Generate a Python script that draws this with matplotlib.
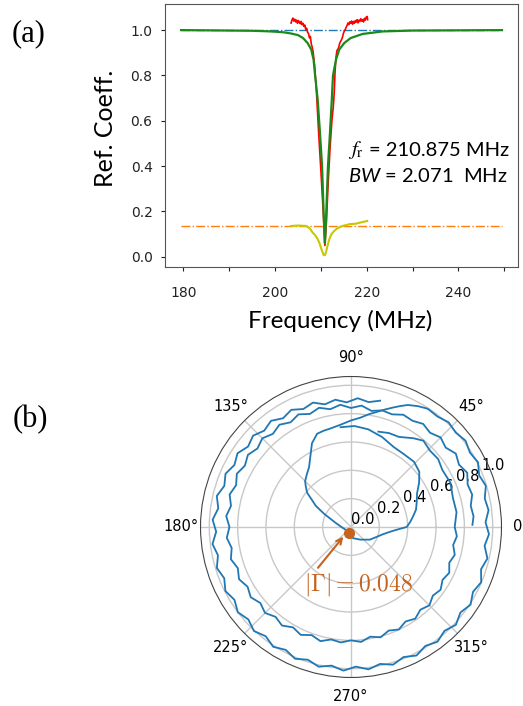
import numpy as np
import matplotlib
matplotlib.use("Agg")
import matplotlib.pyplot as plt

# ---- panel (a): reflection coefficient vs frequency (MHz) ----
fit_freq = [179.5, 185, 190, 195, 198, 200, 202, 203.5, 205, 206.1, 207.1, 207.9, 208.4,
            208.74, 209.3, 209.8, 210.26, 210.5, 210.76, 210.875, 211.0, 211.28, 211.54,
            211.98, 212.38, 212.64, 213.3, 214.0, 215.1, 216.5, 219.1, 223.4, 230, 240, 249.5]
fit_coef = [1.0, 0.999, 0.998, 0.997, 0.995, 0.993, 0.990, 0.985, 0.978, 0.965, 0.943, 0.914,
            0.87, 0.80, 0.694, 0.547, 0.40, 0.254, 0.107, 0.06, 0.107, 0.254, 0.40,
            0.547, 0.694, 0.80, 0.87, 0.914, 0.943, 0.965, 0.983, 0.994, 0.998, 0.999, 1.0]

meas_freq = [203.5, 203.7, 203.9, 204.1, 204.3, 204.5, 204.7, 204.9, 205.1, 205.3, 205.5,
             205.7, 205.9, 206.1, 206.3, 206.5, 206.7, 206.9, 207.1, 207.3, 207.5, 207.7,
             207.9, 208.1, 208.3, 208.6, 209.0, 209.5, 210.0, 210.5, 210.875, 211.2, 211.6,
             212.0, 212.4, 212.7, 212.9, 213.1, 213.3, 213.5, 213.7, 213.9, 214.1, 214.3,
             214.5, 214.7, 214.9, 215.1, 215.3, 215.5, 215.7, 215.9, 216.1, 216.3, 216.5,
             216.7, 216.9, 217.1, 217.3, 217.5, 217.7, 217.9, 218.1, 218.3, 218.5, 218.7,
             218.9, 219.1, 219.3, 219.5, 219.7, 219.9, 220.1, 220.2]
meas_coef = [1.031, 1.045, 1.053, 1.040, 1.048, 1.036, 1.044, 1.030, 1.042, 1.035, 1.028,
             1.038, 1.024, 1.030, 1.016, 1.022, 1.002, 1.008, 0.990, 0.985, 0.966, 0.972,
             0.940, 0.925, 0.905, 0.85, 0.74, 0.55, 0.38, 0.20, 0.05, 0.15, 0.33,
             0.48, 0.60, 0.66, 0.72, 0.82, 0.88, 0.91, 0.915, 0.925, 0.942, 0.950,
             0.958, 0.968, 0.985, 0.995, 1.002, 1.012, 1.020, 1.031, 1.024, 1.036, 1.030,
             1.040, 1.026, 1.038, 1.030, 1.042, 1.035, 1.046, 1.032, 1.044, 1.038, 1.050,
             1.040, 1.046, 1.036, 1.052, 1.044, 1.058, 1.060, 1.046]

mag_freq = [203.5, 205.0, 206.8, 207.6, 208.2, 208.8, 209.3, 209.7, 210.0, 210.3, 210.6,
            210.85, 211.1, 211.4, 211.84, 212.3, 212.9, 213.6, 214.7, 215.5, 216.2, 217.6,
            218.8, 220.1]
mag_coef = [0.136, 0.138, 0.136, 0.125, 0.107, 0.094, 0.078, 0.060, 0.041, 0.024, 0.008,
            0.007, 0.019, 0.045, 0.078, 0.100, 0.114, 0.126, 0.136, 0.140, 0.144, 0.146,
            0.152, 0.158]

ref_freq = [179.5, 249.5]
ref_unity = [1.0, 1.0]
ref_min = [0.136, 0.136]

# ---- panel (b): polar trace, angle (deg) and magnitude ----
# inner spiral (two loose ends)
ring_b_deg = [74, 68, 62, 55, 50, 44, 38, 32, 24, 16, 8, 0,
              -5, -10, -15, -20, -25, -30, -35, -40, -45, -50,
              -55, -60, -65, -70, -75, -80, -85, -90, -95, -100,
              -105, -110, -115, -120, -125, -130, -135, -140, -145, -150,
              -155, -160, -165, -170, -175, -180, -185, -190, -195, -200,
              -205, -210, -215, -220, -225, -230, -235, -240, -245, -250,
              -255, -260, -265, -270, -275, -280, -285, -290, -295, -300,
              -305, -310, -315, -320, -325, -330, -335, -340, -345, -350,
              -355, -359]
ring_b_mag = [0.700, 0.715, 0.720, 0.765, 0.795, 0.775, 0.780, 0.760, 0.768, 0.748, 0.752, 0.732,
              0.750, 0.732, 0.758, 0.738, 0.765, 0.746, 0.772, 0.754, 0.782, 0.762,
              0.790, 0.770, 0.798, 0.778, 0.806, 0.786, 0.814, 0.800, 0.818, 0.806,
              0.834, 0.812, 0.840, 0.818, 0.849, 0.828, 0.858, 0.835, 0.864, 0.843,
              0.872, 0.850, 0.878, 0.855, 0.880, 0.858, 0.884, 0.860, 0.887, 0.863,
              0.889, 0.865, 0.888, 0.862, 0.885, 0.858, 0.881, 0.853, 0.877, 0.849,
              0.871, 0.844, 0.866, 0.840, 0.860, 0.832, 0.852, 0.846, 0.874, 0.866,
              0.888, 0.868, 0.894, 0.872, 0.903, 0.880, 0.905, 0.876, 0.885, 0.858,
              0.868, 0.857]

# outer ring, then turning in to the resonance loop
ring_a_deg = [77, 82, 87, 92, 97, 102, 107, 112, 117, 122,
              127, 132, 137, 142, 147, 152, 157, 162, 167, 172,
              177, 182, 187, 192, 197, 202, 207, 212, 217, 222,
              227, 232, 237, 242, 247, 252, 257, 262, 267, 272,
              277, 282, 287, 292, 297, 302, 307, 312, 317, 322,
              327, 332, 337, 342, 347, 352, 357, 362, 367, 372,
              377, 382, 387, 392, 397, 402, 407, 412, 417,
              421, 425, 428, 431, 434, 437, 441, 445, 450, 456, 462, 466]
ring_a_mag = [0.915, 0.890, 0.910, 0.880, 0.905, 0.885, 0.918, 0.898, 0.928, 0.905,
              0.938, 0.915, 0.945, 0.922, 0.955, 0.932, 0.962, 0.940, 0.972, 0.946,
              0.978, 0.952, 0.985, 0.960, 0.990, 0.965, 0.995, 0.970, 1.000, 0.975,
              1.004, 0.978, 1.008, 0.982, 1.010, 0.985, 1.012, 0.988, 1.015, 0.986,
              1.012, 0.988, 1.016, 0.990, 1.018, 0.990, 1.014, 0.986, 1.012, 0.980,
              1.006, 0.975, 0.998, 0.965, 0.988, 0.952, 0.975, 0.950, 0.978, 0.965,
              0.995, 0.975, 1.006, 0.990, 1.012, 0.995, 1.010, 0.990, 0.995,
              0.975, 0.950, 0.920, 0.890, 0.862, 0.835, 0.806, 0.775, 0.752, 0.725, 0.710, 0.706]

loop_c_deg = [470, 475, 480, 485, 490, 495, 498, 502, 505, 509,
              514, 525, 545, 575, 612, 640, 666, 686, 699, 707,
              713, 717, 720, 725, 730, 735, 741, 747, 753, 759,
              766, 774, 782, 791, 800, 808, 816]
loop_c_mag = [0.700, 0.652, 0.574, 0.516, 0.485, 0.458, 0.430, 0.393, 0.340, 0.290,
              0.210, 0.112, 0.060, 0.040, 0.048, 0.080, 0.110, 0.160, 0.194, 0.230,
              0.277, 0.330, 0.393, 0.420, 0.446, 0.475, 0.497, 0.523, 0.573, 0.620,
              0.640, 0.635, 0.640, 0.672, 0.700, 0.713, 0.708]

gamma_deg = 252
gamma_mag = 0.048

plt.rcParams['font.family'] = ['DejaVu Sans']
plt.rcParams['mathtext.fontset'] = 'custom'
plt.rcParams['mathtext.rm'] = 'Lato'
plt.rcParams['mathtext.it'] = 'Lato:italic'

fig = plt.figure(figsize=(5.23, 7.06), dpi=100)

ax = fig.add_axes([0.3155, 0.6218, 0.675, 0.3725])
ax.plot(ref_freq, ref_unity, color='tab:blue', ls='-.', lw=1.0)
ax.plot(ref_freq, ref_min, color='tab:orange', ls='-.', lw=1.0)
ax.plot(meas_freq, meas_coef, color='red', lw=1.2)
ax.plot(mag_freq, mag_coef, color='#c8c800', lw=1.5)
ax.plot(fit_freq, fit_coef, color='#1a8a1a', lw=1.6)
ax.set_xlim(176.0, 253.0)
ax.set_ylim(-0.045, 1.115)
ax.set_xticks([180, 190, 200, 210, 220, 230, 240, 250])
ax.set_xticklabels(['180', '', '200', '', '220', '', '240', ''])
ax.set_yticks([0.0, 0.2, 0.4, 0.6, 0.8, 1.0])
ax.tick_params(labelsize=10, colors='#222222', length=3)
ax.tick_params(axis='x', pad=11)
ax.tick_params(axis='y', pad=6)
for s in ax.spines.values():
    s.set_color('#555555')
ax.set_ylabel('Ref. Coeff.', family='Lato', fontsize=18)
ax.yaxis.set_label_coords(-0.136, 0.528)

fig.text(0.665, 1 - 150 / 706, '$f_{\\mathrm{r}}$', math_fontfamily='stix',
         fontsize=15, ha='left', va='center')
fig.text(0.665 + 21 / 523, 1 - 150 / 706, '= 210.875 MHz', family='Lato',
         fontsize=14.5, ha='left', va='center')
fig.text(0.665, 1 - 176 / 706, '$\\mathit{BW}$ = 2.071  MHz', family='Lato',
         fontsize=14.5, ha='left', va='center')
fig.text(340.5 / 523, 1 - 328 / 706, 'Frequency (MHz)', family='Lato', fontsize=17.5,
         ha='center', va='baseline')
fig.text(12 / 523, 1 - 41 / 706, '(a)', family='Liberation Serif', fontsize=22)
fig.text(13 / 523, 1 - 427 / 706, '(b)', family='Liberation Serif', fontsize=22)

# ---- polar panel ----
pax = fig.add_axes([0.3834, 0.0404, 0.5755, 0.4263], projection='polar')
pax.plot(np.deg2rad(ring_b_deg), ring_b_mag, color='tab:blue', lw=1.3)
pax.plot(np.deg2rad(ring_a_deg + loop_c_deg), ring_a_mag + loop_c_mag, color='tab:blue', lw=1.3)
pax.plot(np.deg2rad(gamma_deg), gamma_mag, 'o', color='#c4621f', ms=7)
pax.annotate('', xy=(np.deg2rad(gamma_deg - 20), gamma_mag + 0.02),
             xytext=(np.deg2rad(231), 0.39),
             arrowprops=dict(arrowstyle='->', color='#c4621f', lw=1.5))
pax.text(np.deg2rad(277), 0.41, '$|\\Gamma| = 0.048$', math_fontfamily='cm', fontsize=17,
         color='#c4621f', ha='center', va='center')
pax.set_rmax(1.062)
pax.set_rticks([0.0, 0.2, 0.4, 0.6, 0.8, 1.0])
pax.tick_params(labelsize=10.5)
pax.spines['polar'].set_color('#444444')
pax.grid(color='#c8c8c8', lw=1.0)

fig.savefig('out.png', dpi=100)
